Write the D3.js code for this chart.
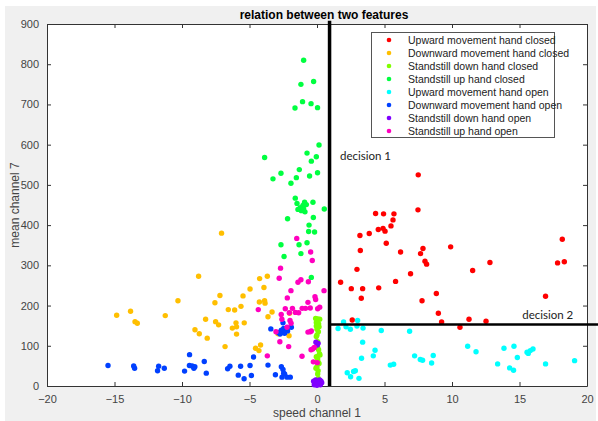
<!DOCTYPE html>
<html>
<head>
<meta charset="utf-8">
<script src="https://cdn.jsdelivr.net/npm/d3@7"></script>
<style>
  body { margin: 0; background: #fff; }
  svg { display: block; }
</style>
</head>
<body>
<svg></svg>
<script>
// class data, [speed channel 1, mean channel 7]
let upClosed = [[7.50,525],[7.48,438],[4.34,429],[4.93,428],[5.70,428],[5.63,413],[5.48,398],[4.54,389],[4.89,392],[5.04,385],
  [3.87,379],[3.18,374],[5.13,355],[3.21,337],[6.19,333],[7.85,342],[7.67,329],[8.00,310],[8.12,303],[9.90,346],
  [2.96,290],[6.93,279],[1.75,258],[5.82,260],[2.54,242],[3.38,242],[4.57,244],[3.28,218],[8.84,230],[7.78,212],
  [8.99,181],[2.61,164],[9.23,159],[11.26,166],[10.59,146],[12.81,307],[11.53,287],[12.52,161],[16.93,223],
  [18.17,365],[17.82,306],[18.32,309]]
let downClosed = [[-14.84,176],[-13.81,186],[-13.48,160],[-13.31,156],[-11.24,175],[-10.30,212],[-8.77,273],[-7.07,380],
  [-9.04,140],[-8.72,130],[-8.25,166],[-8.13,119],[-7.56,207],[-7.19,225],[-7.51,160],[-7.29,152],[-6.81,98],
  [-6.57,190],[-6.27,144],[-6.10,189],[-6.00,157],[-5.96,147],[-5.96,129],[-5.63,198],[-5.48,224],[-5.39,157],
  [-4.96,241],[-4.55,94],[-4.30,88],[-4.18,102],[-4.25,267],[-4.27,209],[-3.93,245],[-3.88,212],[-3.85,206],
  [-3.68,273],[-3.63,172],[-3.33,184],[-2.89,130],[-2.07,125],[-2.03,181]]
let stillDownClosed = [[-0.10,168],[0.05,167],[0.20,166],[-0.05,158],[0.12,154],[-0.05,149],[0.15,147],[0.00,141],
  [0.10,135],[0.00,127],[-0.05,123],[0.05,110],[0.00,98],[0.05,95],[0.12,90],[0.18,80],[0.22,77],[-0.05,73],
  [0.05,67],[0.08,60],[0.15,56],[0.00,48],[-0.08,44],[0.08,38],[0.05,30],[0.10,19],[-0.10,11],[0.15,10]]
let stillUpClosed = [[-0.99,810],[-1.19,750],[-0.25,757],[-1.07,707],[-0.44,702],[-1.63,691],[0.04,692],[0.15,599],
  [-3.88,568],[-0.74,579],[-0.05,570],[-0.42,559],[-1.31,538],[-2.67,529],[-3.26,515],[-1.53,518],[-0.55,522],
  [0.04,530],[-1.93,504],[-1.61,467],[-1.48,454],[-0.92,457],[-1.04,449],[-0.79,451],[-1.24,443],[-0.99,440],
  [-0.89,433],[-1.41,439],[-1.16,436],[-0.30,457],[0.54,440],[-2.18,416],[-0.27,419],[-0.59,400],[-0.62,384],
  [-0.18,383],[-0.74,356],[-2.67,351],[-1.33,351],[-1.19,329],[-2.44,322],[-0.42,270]]
let upOpen = [[1.97,159],[3.01,163],[1.56,143],[2.15,147],[2.47,141],[2.96,149],[3.41,144],[4.76,138],[6.86,136],
  [3.38,109],[4.30,89],[4.17,75],[3.30,69],[2.24,33],[2.71,36],[2.84,38],[2.49,23],[3.11,19],[5.43,52],[5.68,54],
  [7.23,75],[7.65,66],[7.82,64],[8.61,76],[8.49,57],[11.16,99],[11.78,85],[13.38,55],[13.85,94],[14.59,99],
  [14.84,71],[14.27,45],[14.56,39],[15.56,84],[15.80,88],[16.00,92],[15.65,81],[16.93,55],[19.08,63]]
let downOpen = [[-15.48,51],[-13.58,50],[-13.51,44],[-11.81,38],[-11.73,49],[-11.31,44],[-9.81,37],[-9.44,78],
  [-9.45,51],[-9.25,50],[-9.12,44],[-9.05,48],[-8.35,61],[-8.20,32],[-6.62,43],[-6.45,49],[-5.83,27],[-5.66,49],
  [-5.40,18],[-4.96,51],[-4.86,26],[-4.70,72],[-3.63,52],[-3.08,28],[-3.42,142],[-2.87,133],[-2.64,139],
  [-2.47,143],[-2.27,138],[-2.59,133],[-2.40,131],[-2.74,129],[-2.52,157],[-1.90,146],[-2.18,137],[-2.64,48],
  [-2.52,41],[-2.47,32],[-2.59,22],[-2.22,22],[-1.98,22],[-2.40,30]]
let stillDownOpen = [[-0.08,109],[0.08,106],[0.02,102],[-0.25,12],[-0.15,8],[-0.05,5],[0.05,10],[0.15,6],
  [0.25,3],[0.35,8],[-0.20,3],[0.00,2],[0.10,14],[0.30,12],[-0.10,15],[0.20,15]]
let stillUpOpen = [[-1.50,367],[-0.47,333],[-0.35,312],[-2.70,293],[-2.80,268],[-1.41,258],[-1.19,264],[-0.64,259],
  [-1.93,237],[-2.20,219],[-0.15,222],[-0.10,215],[0.52,237],[-4.35,190],[-2.65,178],[-2.60,166],[-2.35,192],
  [-2.05,182],[-1.82,193],[-1.60,183],[-1.36,182],[-1.10,193],[-0.85,193],[-0.67,208],[-0.50,194],[0.05,192],
  [0.20,196],[-2.00,163],[-1.92,156],[-2.22,146],[-0.67,134],[-0.50,135],[-0.42,137],[-3.04,135],[-2.75,110],
  [-2.10,98],[-3.68,75],[-1.11,74],[-0.32,92],[-0.44,90],[-0.27,60],[0.02,58],[-0.20,96]]

let classNames = ['Upward movement hand closed', 'Downward movement hand closed', 'Standstill down hand closed',
  'Standstill up hand closed', 'Upward movement hand open', 'Downward movement hand open',
  'Standstill down hand open', 'Standstill up hand open']
let classColors = ['#ff0000', '#ffbf00', '#80ff00', '#00ff40', '#00ffff', '#0040ff', '#8000ff', '#ff00bf']
let classData = [upClosed, downClosed, stillDownClosed, stillUpClosed, upOpen, downOpen, stillDownOpen, stillUpOpen]

let xTicks = [-20, -15, -10, -5, 0, 5, 10, 15, 20]
let yTicks = [0, 100, 200, 300, 400, 500, 600, 700, 800, 900]

// decision boundaries
let decision1 = { x: 0.93, y0: 0, y1: 908 }
let decision2 = { y: 153, x0: 0.93, x1: 20.85 }

let w = 598
let h = 421
let padLeft = 47, padRight = 587, padTop = 24, padBottom = 386
let axisColor = '#333'

let svg = d3.select('svg').attr('width', w).attr('height', h)

let xScale = d3.scaleLinear().domain([-20, 20]).range([padLeft, padRight])
let yScale = d3.scaleLinear().domain([0, 900]).range([padBottom, padTop])

let drawBackground = () => {
    svg.append('rect').attr('x', 0).attr('y', 0).attr('width', w).attr('height', h).attr('fill', '#fff')
    svg.append('rect').attr('x', 5).attr('y', 6).attr('width', 591).attr('height', h - 6).attr('fill', '#f0f0f0')
    svg.append('rect').attr('x', padLeft).attr('y', padTop).attr('width', padRight - padLeft)
       .attr('height', padBottom - padTop).attr('fill', '#fff')
}

let styleAxis = (g) => {
    g.select('.domain').attr('stroke', axisColor)
    g.selectAll('.tick line').attr('stroke', axisColor)
    g.selectAll('.tick text').attr('fill', '#444').attr('font-size', '11px')
       .attr('font-family', 'Liberation Sans, Arial, sans-serif')
}

let makeAxes = () => {
    let xAxis = d3.axisBottom(xScale).tickValues(xTicks).tickSize(-4).tickPadding(9).tickSizeOuter(0)
    svg.append('g').attr('transform', 'translate(0,' + padBottom + ')').call(xAxis).call(styleAxis)

    let xTop = d3.axisTop(xScale).tickValues(xTicks).tickSize(-4).tickFormat('').tickSizeOuter(0)
    svg.append('g').attr('transform', 'translate(0,' + padTop + ')').call(xTop).call(styleAxis)

    let yAxis = d3.axisLeft(yScale).tickValues(yTicks).tickSize(-4).tickPadding(8).tickSizeOuter(0)
    svg.append('g').attr('transform', 'translate(' + padLeft + ',0)').call(yAxis).call(styleAxis)

    let yRight = d3.axisRight(yScale).tickValues(yTicks).tickSize(-4).tickFormat('').tickSizeOuter(0)
    svg.append('g').attr('transform', 'translate(' + padRight + ',0)').call(yRight).call(styleAxis)
}

let makePoints = () => {
    classData.forEach((pts, i) => {
        svg.append('g').selectAll('circle')
           .data(pts)
           .enter()
           .append('circle')
           .attr('cx', (d) => xScale(d[0]))
           .attr('cy', (d) => yScale(d[1]))
           .attr('r', 2.7)
           .attr('fill', classColors[i])
    })
}

let makeDecisions = () => {
    svg.append('line')
       .attr('x1', xScale(decision1.x)).attr('x2', xScale(decision1.x))
       .attr('y1', yScale(decision1.y0)).attr('y2', yScale(decision1.y1))
       .attr('stroke', '#000').attr('stroke-width', 3.5)
    svg.append('line')
       .attr('x1', xScale(decision2.x0)).attr('x2', xScale(decision2.x1))
       .attr('y1', yScale(decision2.y)).attr('y2', yScale(decision2.y))
       .attr('stroke', '#000').attr('stroke-width', 2.5)
    svg.append('text').attr('x', xScale(1.7)).attr('y', yScale(562))
       .attr('font-family', 'Lato, Open Sans, sans-serif').attr('font-size', '11.5px').attr('fill', '#222')
       .text('decision 1')
    svg.append('text').attr('x', xScale(15.2)).attr('y', yScale(167))
       .attr('font-family', 'Lato, Open Sans, sans-serif').attr('font-size', '11.5px').attr('fill', '#222')
       .text('decision 2')
}

let makeLabels = () => {
    svg.append('text').attr('x', 324).attr('y', 19).attr('text-anchor', 'middle')
       .attr('font-family', 'Liberation Sans, Arial, sans-serif').attr('font-size', '12px')
       .attr('font-weight', 'bold').attr('fill', '#000')
       .text('relation between two features')
    svg.append('text').attr('x', 317).attr('y', 417).attr('text-anchor', 'middle')
       .attr('font-family', 'Liberation Sans, Arial, sans-serif').attr('font-size', '12px').attr('fill', '#444')
       .text('speed channel 1')
    svg.append('text').attr('transform', 'translate(19,205) rotate(-90)').attr('text-anchor', 'middle')
       .attr('font-family', 'Liberation Sans, Arial, sans-serif').attr('font-size', '12px').attr('fill', '#444')
       .text('mean channel 7')
}

let makeLegend = () => {
    let lg = svg.append('g')
    lg.append('rect').attr('x', 371.5).attr('y', 32.5).attr('width', 183).attr('height', 105)
      .attr('fill', '#fff').attr('stroke', '#555').attr('stroke-width', 1)
    let rows = lg.selectAll('g.item')
       .data(classNames)
       .enter()
       .append('g')
       .attr('class', 'item')
       .attr('transform', (d, i) => 'translate(0,' + (40 + i * 13) + ')')
    rows.append('circle').attr('cx', 389).attr('cy', 0).attr('r', 2.3)
        .attr('fill', (d, i) => classColors[i])
    rows.append('text').attr('x', 408).attr('y', 4)
        .attr('font-family', 'Liberation Sans, Arial, sans-serif').attr('font-size', '10.5px').attr('fill', '#222')
        .text((d) => d)
}

drawBackground()
makeAxes()
makePoints()
makeDecisions()
makeLabels()
makeLegend()
</script>
</body>
</html>
